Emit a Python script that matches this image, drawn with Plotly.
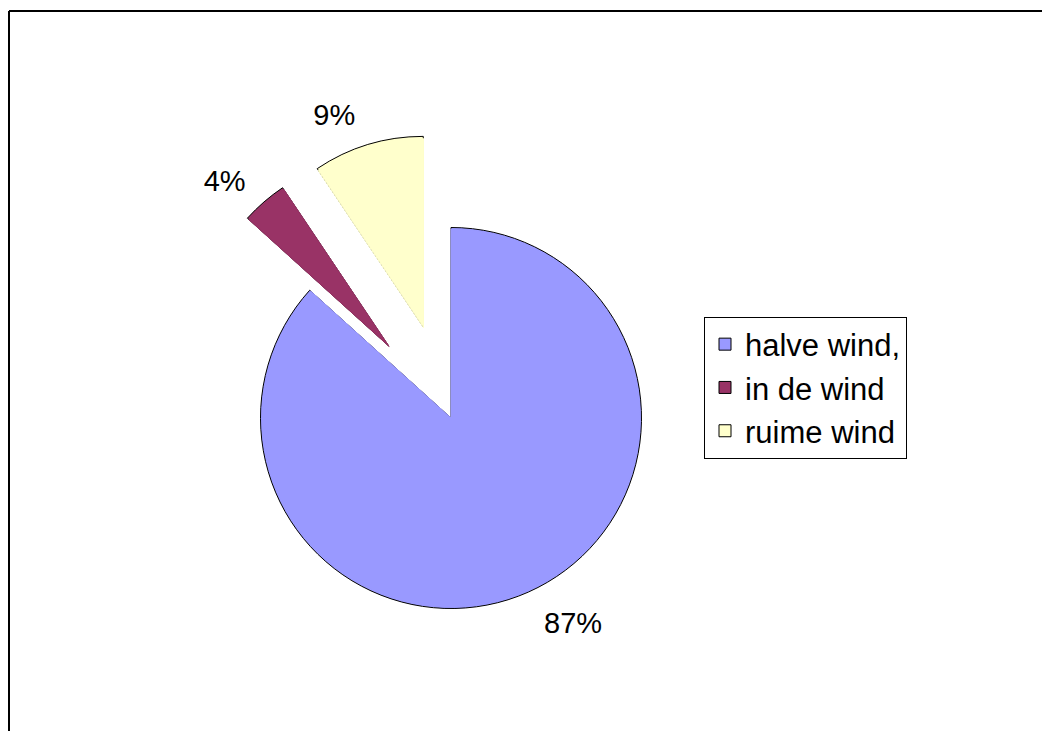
import plotly.graph_objects as go

labels = ["halve wind,", "in de wind", "ruime wind"]
values = [86.7, 3.9, 9.4]
colors = ["#9999FF", "#993366", "#FFFFCC"]
pulls = [0, 0.5, 0.5]
label_pulls = [0, 0.44, 0.44]

# page has an 8px body margin; size the figure so the page is exactly 1050x731
W, H = 1042, 723
FONT = "Liberation Sans, Arial, sans-serif"
CX, CY = 443, 410  # pie centre in figure pixels


def dom(half):
    return dict(x=[(CX - half) / W, (CX + half) / W],
                y=[1 - (CY + half) / H, 1 - (CY - half) / H])


fig = go.Figure()
# outlined pie (gives the black arc and the legend swatches)
fig.add_trace(go.Pie(
    labels=labels, values=values, sort=False, direction="clockwise",
    rotation=0, pull=pulls, automargin=False,
    marker=dict(colors=colors, line=dict(color="black", width=1)),
    textinfo="none", domain=dom(190.5 * 1.5), hoverinfo="skip",
))
# fill pie on top hides the radial edge lines
fig.add_trace(go.Pie(
    labels=labels, values=values, sort=False, direction="clockwise",
    rotation=0, pull=pulls, automargin=False, showlegend=False,
    marker=dict(colors=colors, line=dict(color=colors, width=1)),
    textinfo="none", domain=dom(189 * 1.5), hoverinfo="skip",
))
# transparent pie carrying the percentage labels a bit further out
fig.add_trace(go.Pie(
    labels=labels, values=values, sort=False, direction="clockwise",
    rotation=0, pull=label_pulls, automargin=False, showlegend=False,
    marker=dict(colors=["rgba(0,0,0,0)"] * 3, line=dict(width=0)),
    textposition="outside", texttemplate="%{percent:.0%}",
    textfont=dict(family=FONT, size=29, color="black"),
    domain=dom(209.5 * 1.44), hoverinfo="skip",
))

fig.update_layout(
    width=W, height=H,
    autosize=False,
    margin=dict(l=0, r=0, t=0, b=0, pad=0, autoexpand=False),
    paper_bgcolor="white",
    plot_bgcolor="white",
    font=dict(family=FONT, color="black"),
    showlegend=True,
    legend=dict(
        x=696 / W, y=1 - 379.5 / H, xanchor="left", yanchor="middle",
        bgcolor="white", bordercolor="black", borderwidth=1,
        font=dict(family=FONT, size=31, color="black"),
    ),
    shapes=[
        dict(type="line", xref="paper", yref="paper", x0=1 / W, x1=1.0,
             y0=1 - 3 / H, y1=1 - 3 / H, line=dict(color="black", width=2)),
        dict(type="line", xref="paper", yref="paper", x0=1 / W, x1=1 / W,
             y0=1 - 3 / H, y1=0, line=dict(color="black", width=2)),
    ],
)

fig.write_html("out.html")
